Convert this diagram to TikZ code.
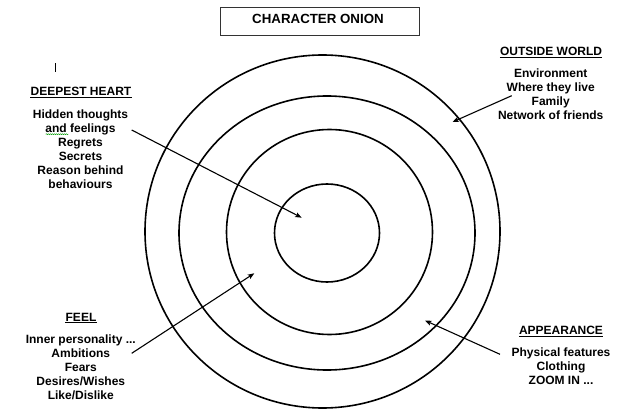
\documentclass[tikz,border=0pt]{standalone}
\usepackage{fontspec}
\setmainfont{Liberation Sans}
\usetikzlibrary{arrows.meta,decorations.pathmorphing}
\begin{document}
\begin{tikzpicture}[x=1pt,y=-1pt,
  ring/.style={line width=1.6pt},
  arr/.style={line width=1.1pt,-{Stealth[length=6.5pt,width=5pt,inset=1.5pt]}},
  head/.style={inner sep=0pt,anchor=base,font=\fontsize{12}{14}\selectfont\bfseries},
  body/.style={inner sep=0pt,anchor=north,align=center,font=\fontsize{12}{13.9}\selectfont\bfseries},
  uline/.style={line width=0.9pt}]
\useasboundingbox (0,0) rectangle (621,409);
% title
\node[draw=black!80,line width=1.1pt,minimum width=198.3pt,minimum height=28.4pt,inner sep=0pt] (titlebox) at (319.9,21.5) {};
\node[inner sep=0pt,anchor=base,font=\fontsize{13.3}{15}\selectfont\bfseries] (title) at (318,23.5) {CHARACTER ONION};
% rings
\coordinate (c1) at (322.5,231.5);
\coordinate (c2) at (327,233);
\coordinate (c3) at (329.5,232);
\coordinate (c4) at (327,233);
\draw[ring] (c1) ellipse [x radius=177.5pt, y radius=176.5pt];
\draw[ring] (c2) ellipse [x radius=148pt, y radius=137pt];
\draw[ring] (c3) ellipse [x radius=103pt, y radius=102.5pt];
\draw[ring] (c4) ellipse [x radius=52.5pt, y radius=49pt];
% deepest heart
\node[head] (dh) at (81,96) {DEEPEST HEART};
\draw[uline] ([yshift=-1.8pt]dh.base west) -- ([yshift=-1.8pt]dh.base east);
\node[body] (dhb) at (80.5,109.7) {Hidden thoughts\\and feelings\\Regrets\\Secrets\\Reason behind\\behaviours};
\coordinate (sq1) at (45.7,134.2);
\coordinate (sq2) at (68.3,134.2);
\draw[green!60!black,line width=0.5pt,decorate,decoration={snake,amplitude=0.5pt,segment length=2pt}] (sq1) -- (sq2);
\coordinate (cur1) at (55.5,63.3);
\coordinate (cur2) at (55.5,72.3);
\draw[line width=1pt] (cur1) -- (cur2);
% outside world
\node[head] (ow) at (551,56) {OUTSIDE WORLD};
\draw[uline] ([yshift=-1.8pt]ow.base west) -- ([yshift=-1.8pt]ow.base east);
\node[body] (owb) at (550.7,69) {Environment\\Where they live\\Family\\Network of friends};
% feel
\node[head] (fe) at (81,321) {FEEL};
\draw[uline] ([yshift=-1.8pt]fe.base west) -- ([yshift=-1.8pt]fe.base east);
\node[body] (feb) at (80.8,335) {Inner personality ...\\Ambitions\\Fears\\Desires/Wishes\\Like/Dislike};
% appearance
\node[head] (ap) at (561,334.3) {APPEARANCE};
\draw[uline] ([yshift=-1.8pt]ap.base west) -- ([yshift=-1.8pt]ap.base east);
\node[body] (apb) at (561,348) {Physical features\\Clothing\\ZOOM IN ...};
% arrows
\coordinate (a1s) at (131.7,130);
\coordinate (a1e) at (301.7,217.7);
\coordinate (a2s) at (511.7,95.7);
\coordinate (a2e) at (452.5,122);
\coordinate (a3s) at (131.7,353.3);
\coordinate (a3e) at (254.3,273.3);
\coordinate (a4s) at (500,354.3);
\coordinate (a4e) at (425,320.5);
\draw[arr] (a1s) -- (a1e);
\draw[arr] (a2s) -- (a2e);
\draw[arr] (a3s) -- (a3e);
\draw[arr] (a4s) -- (a4e);
\end{tikzpicture}
\end{document}
